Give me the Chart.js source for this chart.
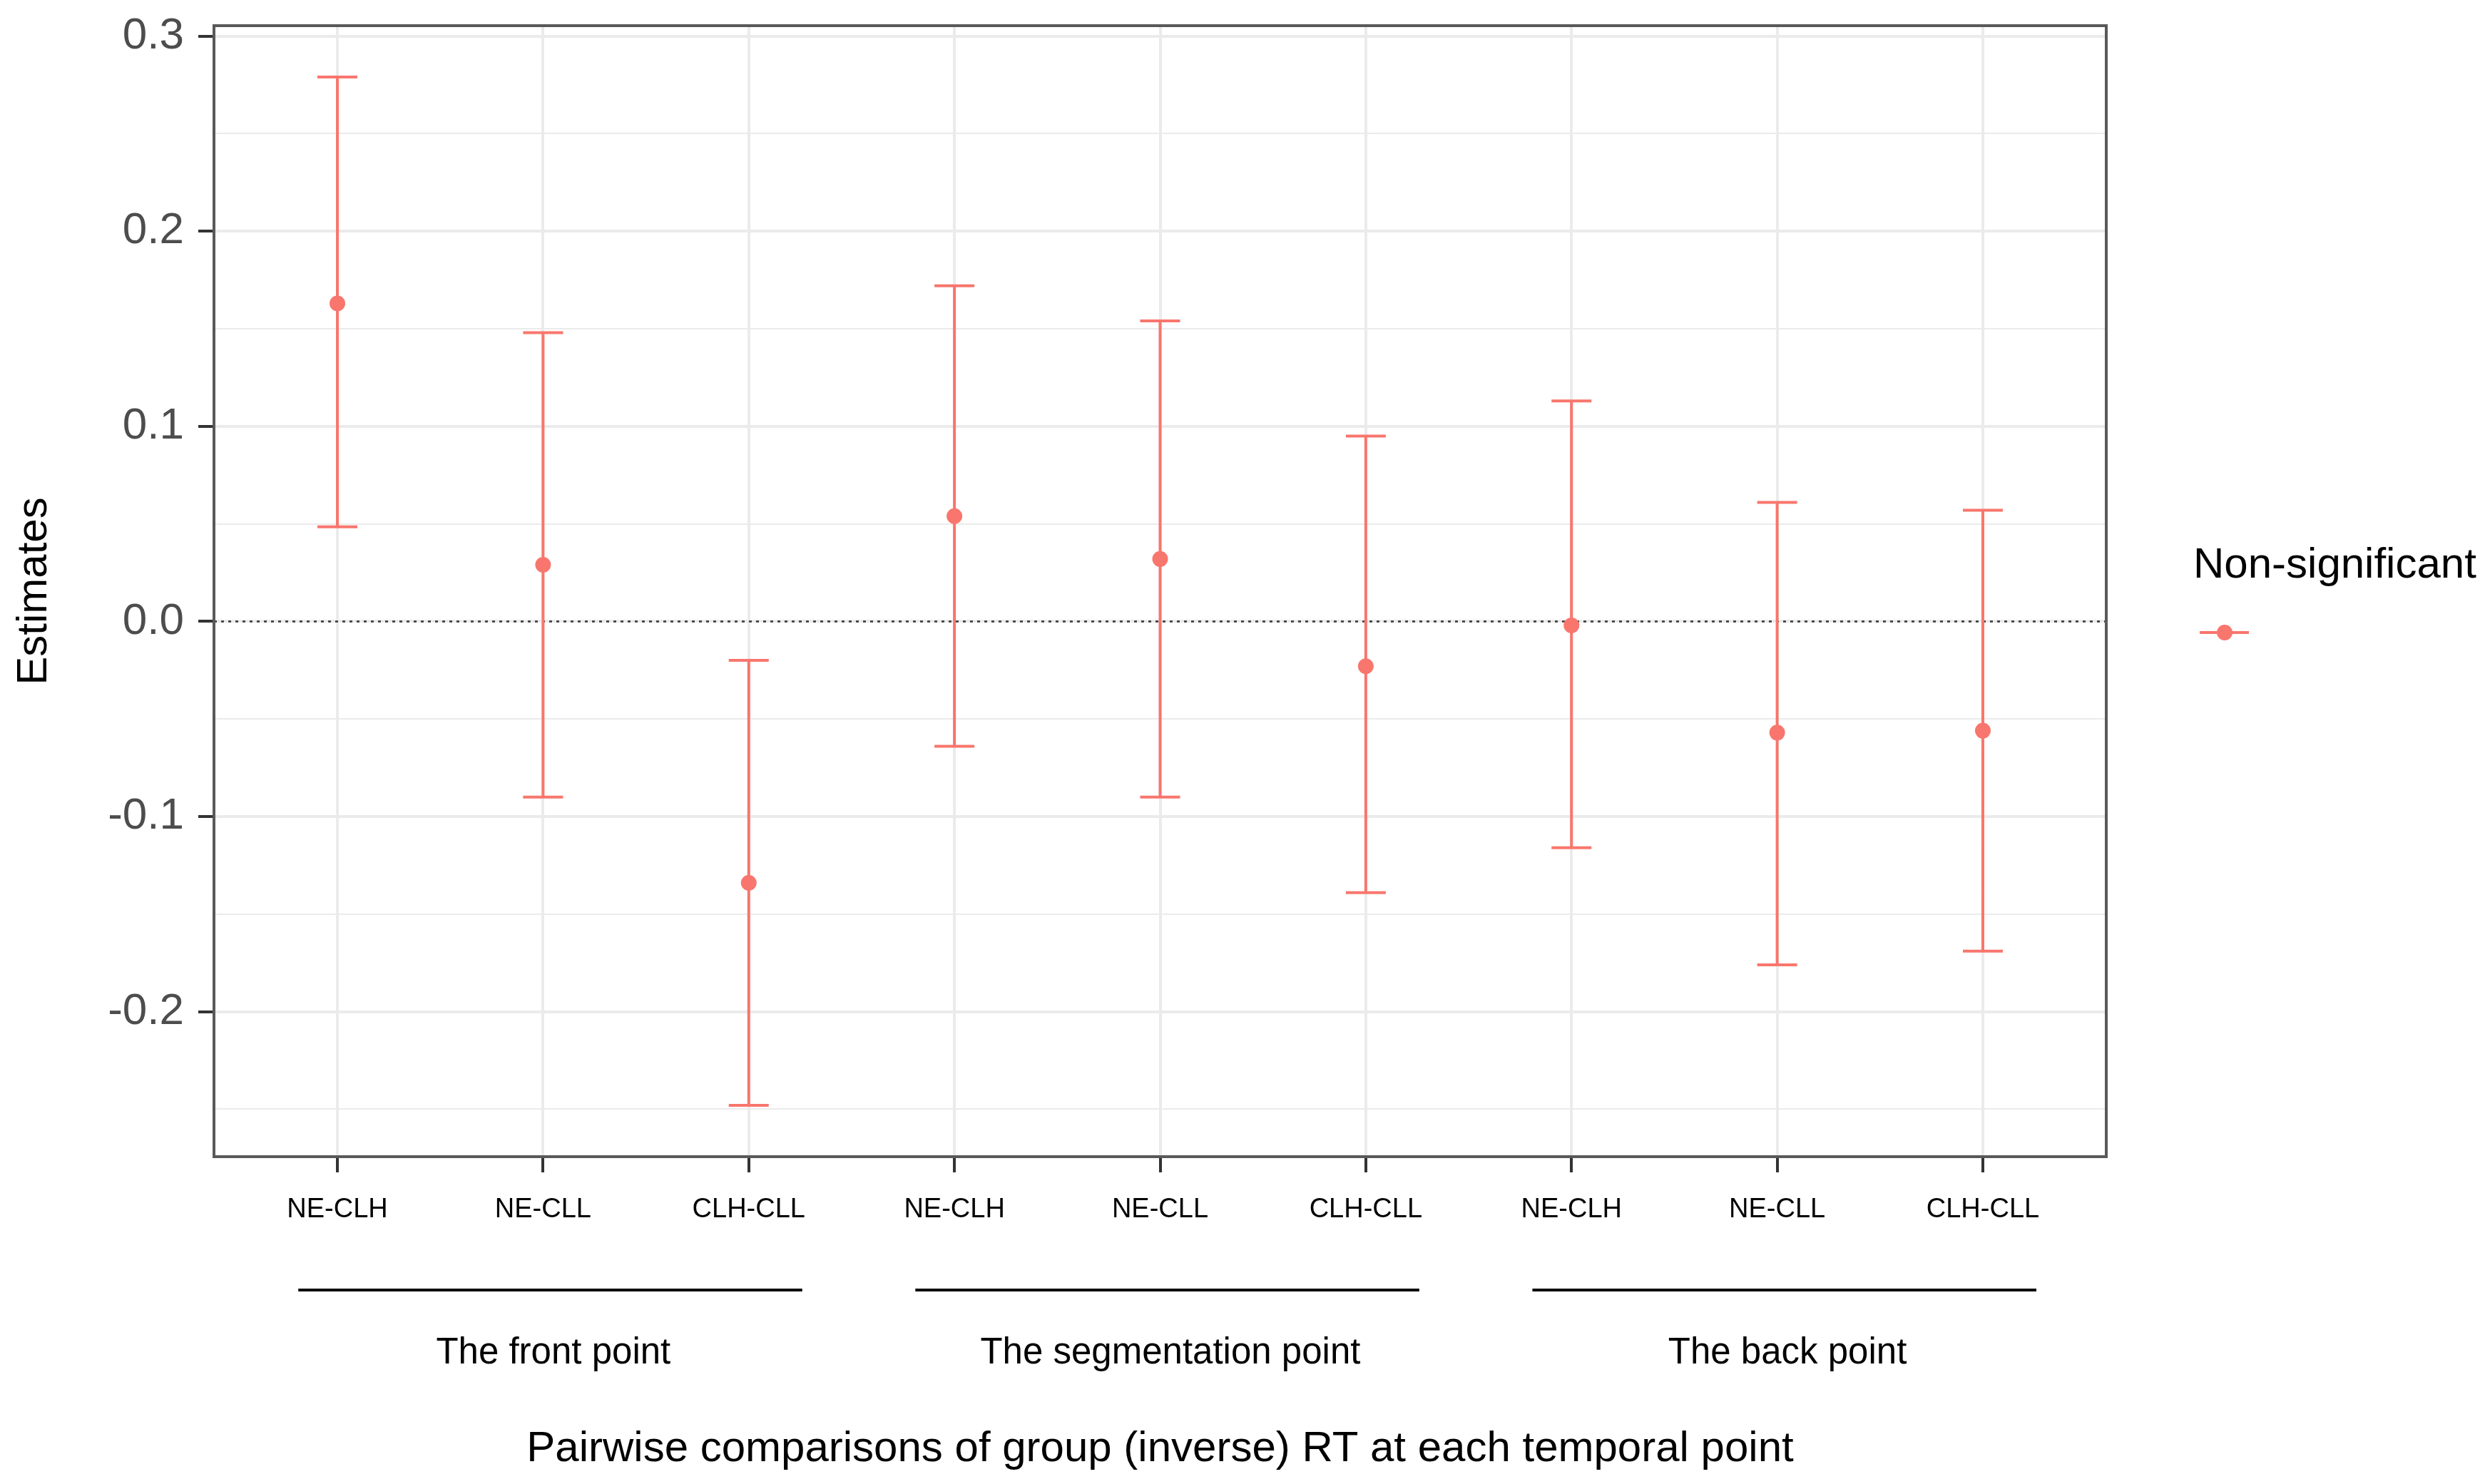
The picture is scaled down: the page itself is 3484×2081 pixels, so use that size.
<!DOCTYPE html>
<html lang="en">
<head>
    <meta charset="UTF-8">
    <title>Pairwise comparisons</title>
    <script src="https://cdn.jsdelivr.net/npm/chart.js"></script>
    <style>
        body { margin: 0; background: #fff; }
        .janela { width: 3484px; height: 2081px; position: relative; }
    </style>
</head>
<body>
    <div class="janela">
        <canvas id="grafico"></canvas>
    </div>

    <script>
        // dados
        const categorias = ['NE-CLH', 'NE-CLL', 'CLH-CLL', 'NE-CLH', 'NE-CLL', 'CLH-CLL', 'NE-CLH', 'NE-CLL', 'CLH-CLL'];
        const estimativas = [0.163, 0.029, -0.134, 0.054, 0.032, -0.023, -0.002, -0.057, -0.056];
        const inferior = [0.0485, -0.090, -0.248, -0.064, -0.090, -0.139, -0.116, -0.176, -0.169];
        const superior = [0.279, 0.148, -0.020, 0.172, 0.154, 0.095, 0.113, 0.061, 0.057];
        const grupos = ['The front point', 'The segmentation point', 'The back point'];
        const grupoInicio = [1, 4, 7];
        const grupoFim = [3, 6, 9];
        const yPrincipais = [-0.2, -0.1, 0.0, 0.1, 0.2, 0.3];
        const ySecundarios = [-0.25, -0.15, -0.05, 0.05, 0.15, 0.25];

        const vermelho = '#F8766D';
        const fonte = "'Liberation Sans', Arial, sans-serif";

        // limites como no ggplot (expansao de 5%)
        const lo = Math.min(...inferior), hi = Math.max(...superior);
        const exp = (hi - lo) * 0.05;

        const pontos = estimativas.map((v, i) => ({ x: i + 1, y: v }));
        const barras = [];
        categorias.forEach((c, i) => {
            barras.push({ x: i + 1, y: inferior[i] });
            barras.push({ x: i + 1, y: superior[i] });
            barras.push({ x: i + 1, y: null });
        });

        const ehPrincipal = v => yPrincipais.some(p => Math.abs(p - v) < 1e-9);

        const extras = {
            id: 'extras',
            beforeDatasetsDraw(chart) {
                const { ctx, chartArea, scales } = chart;
                const y0 = scales.y.getPixelForValue(0);
                ctx.save();
                ctx.strokeStyle = '#333';
                ctx.lineWidth = 2.5;
                ctx.setLineDash([4, 6]);
                ctx.beginPath();
                ctx.moveTo(chartArea.left, y0);
                ctx.lineTo(chartArea.right, y0);
                ctx.stroke();
                ctx.restore();
            },
            afterDraw(chart) {
                const { ctx, chartArea, scales } = chart;
                const x = scales.x;
                ctx.save();
                // moldura do painel
                ctx.strokeStyle = '#595959';
                ctx.lineWidth = 4;
                ctx.strokeRect(chartArea.left, chartArea.top, chartArea.right - chartArea.left, chartArea.bottom - chartArea.top);

                // linhas e nomes dos grupos
                grupos.forEach((g, i) => {
                    const a = x.getPixelForValue(grupoInicio[i] - 0.19);
                    const b = x.getPixelForValue(grupoFim[i] + 0.26);
                    ctx.strokeStyle = '#000';
                    ctx.lineWidth = 4;
                    ctx.beginPath();
                    ctx.moveTo(a, 1809);
                    ctx.lineTo(b, 1809);
                    ctx.stroke();
                    ctx.fillStyle = '#000';
                    ctx.font = '51px ' + fonte;
                    ctx.textAlign = 'center';
                    ctx.textBaseline = 'middle';
                    ctx.fillText(g, x.getPixelForValue((grupoInicio[i] + grupoFim[i]) / 2 + 0.05), 1898);
                });

                // legenda
                ctx.fillStyle = '#000';
                ctx.font = '60px ' + fonte;
                ctx.textAlign = 'left';
                ctx.textBaseline = 'middle';
                ctx.fillText('Non-significant', 3075, 793);
                ctx.strokeStyle = vermelho;
                ctx.lineWidth = 4;
                ctx.beginPath();
                ctx.moveTo(3084, 887);
                ctx.lineTo(3153, 887);
                ctx.stroke();
                ctx.fillStyle = vermelho;
                ctx.beginPath();
                ctx.arc(3119, 887, 11, 0, Math.PI * 2);
                ctx.fill();
                ctx.restore();
            }
        };

        new Chart(document.getElementById('grafico'), {
            type: 'scatter',
            data: {
                datasets: [
                    {
                        label: 'Non-significant',
                        data: pontos,
                        backgroundColor: vermelho,
                        borderWidth: 0,
                        pointRadius: 11,
                        order: 0
                    },
                    {
                        type: 'line',
                        label: 'erro',
                        data: barras,
                        borderColor: vermelho,
                        borderWidth: 4,
                        spanGaps: false,
                        fill: false,
                        pointStyle: 'line',
                        pointRadius: 28,
                        pointBorderWidth: 4,
                        pointBorderColor: vermelho,
                        order: 1
                    }
                ]
            },
            options: {
                responsive: true,
                maintainAspectRatio: false,
                animation: false,
                events: [],
                layout: { padding: { top: 36, right: 531, left: 0, bottom: 0 } },
                plugins: {
                    legend: { display: false },
                    tooltip: { enabled: false }
                },
                scales: {
                    x: {
                        type: 'linear',
                        min: 0.4,
                        max: 9.6,
                        afterBuildTicks: axis => { axis.ticks = categorias.map((c, i) => ({ value: i + 1 })); },
                        afterFit: axis => { axis.height = 459; axis.paddingLeft = 0; axis.paddingRight = 0; },
                        ticks: {
                            autoSkip: false,
                            maxRotation: 0,
                            padding: 30,
                            color: '#000',
                            font: { family: fonte, size: 38 },
                            callback: v => categorias[v - 1]
                        },
                        grid: {
                            color: '#EBEBEB',
                            lineWidth: 4,
                            tickLength: 22,
                            tickWidth: 4,
                            tickColor: '#333'
                        },
                        border: { display: false },
                        title: {
                            display: true,
                            text: 'Pairwise comparisons of group (inverse) RT at each temporal point',
                            color: '#000',
                            font: { family: fonte, size: 60 },
                            padding: { top: 0, bottom: 13 }
                        }
                    },
                    y: {
                        min: lo - exp,
                        max: hi + exp,
                        afterBuildTicks: axis => {
                            axis.ticks = yPrincipais.concat(ySecundarios).sort((a, b) => a - b).map(v => ({ value: v }));
                        },
                        afterFit: axis => { axis.width = 300; axis.paddingTop = 0; axis.paddingBottom = 0; },
                        ticks: {
                            padding: 20,
                            color: '#4D4D4D',
                            font: { family: fonte, size: 62 },
                            callback: v => ehPrincipal(v) ? v.toFixed(1) : ''
                        },
                        grid: {
                            color: '#EBEBEB',
                            lineWidth: c => ehPrincipal(c.tick.value) ? 4 : 2,
                            tickLength: 22,
                            tickWidth: 4,
                            tickColor: c => ehPrincipal(c.tick.value) ? '#333' : 'rgba(0,0,0,0)'
                        },
                        border: { display: false },
                        title: {
                            display: true,
                            text: 'Estimates',
                            color: '#000',
                            font: { family: fonte, size: 60 },
                            padding: { top: 12, bottom: 0 }
                        }
                    }
                }
            },
            plugins: [extras]
        });
    </script>
</body>
</html>
